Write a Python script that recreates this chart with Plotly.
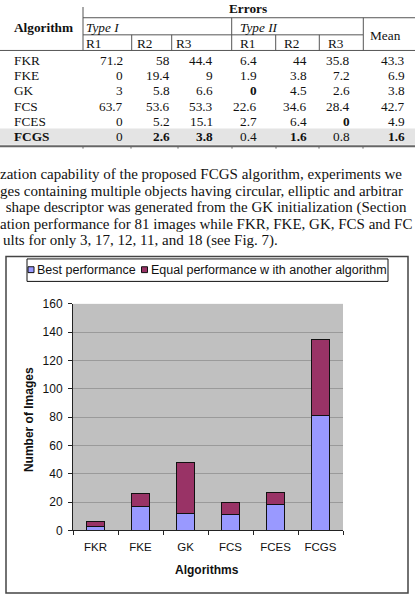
import plotly.graph_objects as go

W, H = 415, 596

# ---------------- data ----------------
algorithms = ["FKR", "FKE", "GK", "FCS", "FCES", "FCGS"]
best_performance = [3, 17, 12, 11, 18, 81]
equal_performance = [3, 9, 36, 9, 9, 54]

series_names = ["Best performance", "Equal performance w ith another algorithm"]
series_colors = ["#9999ff", "#993366"]

y_ticks = [0, 20, 40, 60, 80, 100, 120, 140, 160]

# table data (errors)
tbl_type1_r1 = ["71.2", "0", "3", "63.7", "0", "0"]
tbl_type1_r2 = ["58", "19.4", "5.8", "53.6", "5.2", "2.6"]
tbl_type1_r3 = ["44.4", "9", "6.6", "53.3", "15.1", "3.8"]
tbl_type2_r1 = ["6.4", "1.9", "0", "22.6", "2.7", "0.4"]
tbl_type2_r2 = ["44", "3.8", "4.5", "34.6", "6.4", "1.6"]
tbl_type2_r3 = ["35.8", "7.2", "2.6", "28.4", "0", "0.8"]
tbl_mean = ["43.3", "6.9", "3.8", "42.7", "4.9", "1.6"]
# bold flags (row, col)
bold_cells = {(2, 3), (4, 5), (5, 1), (5, 2), (5, 4), (5, 6)}

paragraph_lines = [
    "zation capability of the proposed FCGS algorithm, experiments we",
    "ges containing multiple objects having circular, elliptic and arbitrar",
    " shape descriptor was generated from the GK initialization (Section ",
    "ation performance for 81 images while FKR, FKE, GK, FCS and FC",
    "ults for only 3, 17, 12, 11, and 18 (see Fig. 7).",
]


def px(x):
    return x / W


def py(y):
    return 1 - y / H


SERIF = "Liberation Serif"
SANS = "Liberation Sans"

fig = go.Figure()
fig.add_trace(go.Bar(x=algorithms, y=best_performance, name=series_names[0],
                     marker=dict(color=series_colors[0], line=dict(color="#111", width=1)),
                     width=0.42, showlegend=False))
fig.add_trace(go.Bar(x=algorithms, y=equal_performance, name=series_names[1],
                     marker=dict(color=series_colors[1], line=dict(color="#111", width=1)),
                     width=0.42, showlegend=False))

shapes = []
annotations = []


def line(x0, y0, x1, y1, color="#555", width=1):
    shapes.append(dict(type="line", xref="paper", yref="paper",
                       x0=px(x0), y0=py(y0), x1=px(x1), y1=py(y1),
                       line=dict(color=color, width=width)))


def rect(x0, y0, x1, y1, fill=None, color=None, width=1):
    d = dict(type="rect", xref="paper", yref="paper",
             x0=px(x0), y0=py(y0), x1=px(x1), y1=py(y1), layer="below")
    if fill:
        d["fillcolor"] = fill
    d["line"] = dict(color=color if color else "rgba(0,0,0,0)", width=width)
    shapes.append(d)


def text(x, y, s, size=13.3, family=SERIF, xanchor="left", color="#111", angle=0):
    annotations.append(dict(xref="paper", yref="paper", x=px(x), y=py(y), text=s,
                            showarrow=False, xanchor=xanchor, yanchor="middle",
                            textangle=angle, borderpad=0, borderwidth=0,
                            font=dict(family=family, size=size, color=color)))


# ---------------- table ----------------
rect(0, 124.5, 415, 141, fill="#e4e4e4")
line(83, 0, 83, 44.5)
line(83, 11, 415, 11)
line(83, 28.5, 363, 28.5)
line(0, 44.5, 415, 44.5)
for xv in (231.7, 363.3):
    line(xv, 11, xv, 44.5)
for xv in (131.7, 171.7, 275.7, 319.3):
    line(xv, 28.5, xv, 44.5)
line(0, 142.5, 415, 142.5, color="#666", width=2)
for xv in (83, 131, 178, 232, 276, 319, 363):
    line(xv, 142.5, xv, 145, color="#666", width=1)

text(248, 1.5, "<b>Errors</b>", xanchor="center")
text(43.5, 21, "<b>Algorithm</b>", xanchor="center")
text(86, 20.5, "<i>Type I</i>", xanchor="left")
text(240, 20.5, "<i>Type II</i>", xanchor="left")
for xv, lab in zip((86, 137, 176, 240, 284, 328), ("R1", "R2", "R3", "R1", "R2", "R3")):
    text(xv, 37, lab)
text(385, 29, "Mean", xanchor="center")

row_y = [55, 70.5, 86, 101.5, 117, 132.5]
col_right = [123, 170, 213, 257, 307, 350, 405]
cols = [tbl_type1_r1, tbl_type1_r2, tbl_type1_r3, tbl_type2_r1, tbl_type2_r2, tbl_type2_r3, tbl_mean]
for r, alg in enumerate(algorithms):
    name = f"<b>{alg}</b>" if alg == "FCGS" else alg
    text(13.5, row_y[r], name)
    for c, col in enumerate(cols):
        v = col[r]
        if (r, c) in bold_cells:
            v = f"<b>{v}</b>"
        text(col_right[c], row_y[r], v, xanchor="right")

# ---------------- paragraph ----------------
para_y = [171.5, 188.5, 205.5, 222, 239]
para_x = [0, 0, 2, 0, 3]
for t, yv, xv in zip(paragraph_lines, para_y, para_x):
    text(xv, yv, t.replace(" ", "&nbsp;") if t.startswith(" ") else t, size=15)

# ---------------- chart frame and legend ----------------
rect(6, 255.5, 408, 600, color="#444", width=1.5)
rect(27, 258, 388, 281, fill="white", color="#111", width=1)
rect(28, 266, 34, 272, fill=series_colors[0], color="#111", width=1)
rect(141.5, 266, 147.5, 272, fill=series_colors[1], color="#111", width=1)
text(37, 269.5, series_names[0], size=12.5, family=SANS)
text(150.5, 269.5, series_names[1], size=12.5, family=SANS)

# axis titles
text(207, 577, "<b>Algorithms</b>", size=12, family=SANS, xanchor="center")
annotations.append(dict(xref="paper", yref="paper", x=px(29), y=py(423), text="<b>Number of Images</b>",
                        showarrow=False, xanchor="center", yanchor="middle", textangle=-90,
                        font=dict(family=SANS, size=12, color="#111")))

fig.update_layout(
    width=W, height=H,
    margin=dict(l=0, r=0, t=0, b=0),
    paper_bgcolor="white",
    plot_bgcolor="#c0c0c0",
    barmode="stack",
    bargap=0.58,
    shapes=shapes,
    annotations=annotations,
    xaxis=dict(domain=[px(73), px(343)], type="category", showline=True, linecolor="#222",
               linewidth=1, ticks="outside", ticklen=4, tickcolor="#222", tickson="boundaries",
               showgrid=False, tickfont=dict(family=SANS, size=11.5, color="#111"),
               ticklabelstandoff=6),
    yaxis=dict(domain=[1 - 536 / H, 1 - 304 / H], range=[0, 160], tickvals=y_ticks,
               showline=True, linecolor="#222", linewidth=1, ticks="outside", ticklen=4,
               tickcolor="#222", showgrid=True, gridcolor="#9a9a9a", gridwidth=1,
               zeroline=False, tickfont=dict(family=SANS, size=12, color="#111"),
               ticklabelstandoff=3),
)

fig.write_html("out.html")
